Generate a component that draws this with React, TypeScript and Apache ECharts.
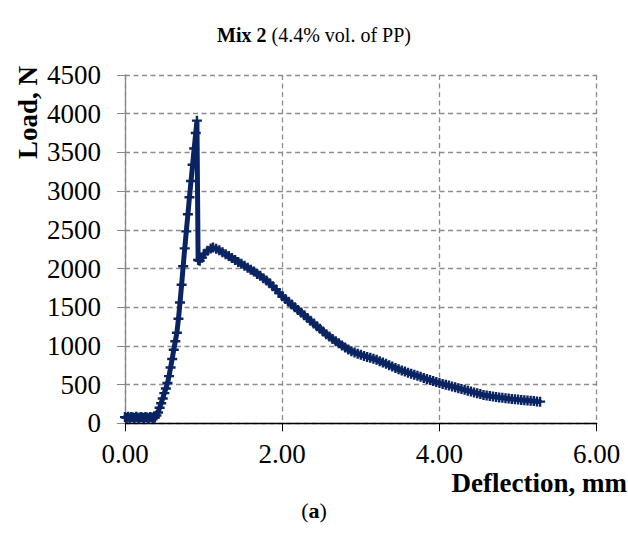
import React, { useEffect, useRef } from "react";
import * as echarts from "echarts";

// Deflection (mm) and Load (N)
const deflection = [
  0.0, 0.02, 0.04, 0.06, 0.08, 0.1, 0.12, 0.14, 0.16, 0.18, 0.2, 0.22, 0.24, 0.26, 0.28, 0.3, 0.32, 0.34, 0.36,
  0.38, 0.4, 0.42, 0.44, 0.46, 0.48, 0.5, 0.52, 0.54, 0.56, 0.58, 0.6, 0.62, 0.64, 0.66, 0.68, 0.7, 0.72, 0.74,
  0.76, 0.78, 0.8, 0.82, 0.84, 0.86, 0.88, 0.9, 0.915,
  0.93, 0.95, 0.98, 1.01, 1.05, 1.09, 1.12, 1.16, 1.2, 1.24, 1.28, 1.32, 1.36, 1.4, 1.44, 1.48, 1.52, 1.56, 1.6,
  1.64, 1.68, 1.72, 1.76, 1.8, 1.84, 1.88, 1.92, 1.96, 2.0, 2.04, 2.08, 2.12, 2.16, 2.2, 2.24, 2.28, 2.32, 2.36,
  2.4, 2.44, 2.48, 2.52, 2.56, 2.6, 2.64, 2.68, 2.72, 2.76, 2.8, 2.84, 2.88, 2.92, 2.96, 3.0, 3.04, 3.08, 3.12,
  3.16, 3.2, 3.24, 3.28, 3.32, 3.36, 3.4, 3.44, 3.48, 3.52, 3.56, 3.6, 3.64, 3.68, 3.72, 3.76, 3.8, 3.84, 3.88,
  3.92, 3.96, 4.0, 4.04, 4.08, 4.12, 4.16, 4.2, 4.24, 4.28, 4.32, 4.36, 4.4, 4.44, 4.48, 4.52, 4.56, 4.6, 4.64,
  4.68, 4.72, 4.76, 4.8, 4.84, 4.88, 4.92, 4.96, 5.0, 5.04, 5.08, 5.12, 5.16, 5.2, 5.24, 5.28,
];
const load = [
  80, 70, 85, 65, 80, 75, 70, 85, 75, 65, 80, 75, 70, 80, 75, 65, 80, 75, 70,
  75, 100, 140, 200, 260, 320, 390, 450, 520, 610, 720, 830, 950, 1060, 1170, 1350, 1560, 1790, 2030,
  2260, 2480, 2700, 2920, 3130, 3340, 3550, 3750, 3910,
  2110, 2100, 2140, 2190, 2230, 2260, 2270, 2255, 2235, 2210, 2185, 2160, 2135, 2110, 2085, 2060, 2035, 2010, 1985,
  1960, 1930, 1905, 1875, 1845, 1810, 1770, 1730, 1685, 1640, 1605, 1570, 1535, 1500, 1465, 1430, 1395, 1360, 1325,
  1290, 1255, 1220, 1185, 1150, 1120, 1090, 1060, 1035, 1005, 980, 955, 930, 915, 900, 885, 870, 858, 846,
  834, 822, 803, 785, 768, 750, 733, 715, 698, 682, 668, 654, 640, 627, 614, 601, 585, 572, 559,
  546, 533, 520, 509, 498, 487, 476, 465, 454, 443, 432, 421, 410, 399, 388, 377, 366, 359, 352,
  346, 340, 334, 329, 324, 319, 314, 310, 306, 302, 298, 294, 290, 287, 283, 280,
];

const xTicks = [0, 2, 4, 6];
const yTicks = [0, 500, 1000, 1500, 2000, 2500, 3000, 3500, 4000, 4500];

const FONT = "'Liberation Serif', 'Times New Roman', serif";
const LINE = "#0a2462";
const GRID = "#8c8c8c";

export default function App() {
  const ref = useRef<HTMLDivElement>(null);
  useEffect(() => {
    if (!ref.current) return;
    const chart = echarts.init(ref.current, null, { renderer: "svg" });
    const data = deflection.map((d, i) => [d, load[i]]);
    chart.setOption({
      animation: false,
      backgroundColor: "#fff",
      title: [
        {
          text: "{b|Mix 2} (4.4% vol. of PP)",
          left: "center",
          top: 20,
          textStyle: {
            fontFamily: FONT,
            fontSize: 20,
            fontWeight: "normal",
            color: "#000",
            rich: { b: { fontFamily: FONT, fontSize: 20, fontWeight: "bold", color: "#000" } },
          },
        },
        {
          text: "({b|a})",
          left: "center",
          top: 494,
          textStyle: {
            fontFamily: FONT,
            fontSize: 22,
            fontWeight: "normal",
            color: "#000",
            rich: { b: { fontFamily: FONT, fontSize: 22, fontWeight: "bold", color: "#000" } },
          },
        },
      ],
      grid: { left: 125, top: 75, right: 31.3, bottom: 110.7, containLabel: false },
      xAxis: {
        type: "value",
        min: xTicks[0],
        max: xTicks[xTicks.length - 1],
        interval: 2,
        axisLine: { show: true, lineStyle: { color: "#000", width: 1.3 } },
        axisTick: { show: true, length: 8, lineStyle: { color: "#000", width: 1 } },
        axisLabel: {
          margin: 17,
          fontFamily: FONT,
          fontSize: 27,
          color: "#000",
          formatter: (v: number) => v.toFixed(2),
        },
        splitLine: { show: true, lineStyle: { color: GRID, type: [5, 3.5], width: 1.3 } },
      },
      yAxis: {
        type: "value",
        min: yTicks[0],
        max: yTicks[yTicks.length - 1],
        interval: 500,
        axisLine: { show: true, lineStyle: { color: "#888", width: 1.3 } },
        axisTick: { show: true, length: 8, lineStyle: { color: "#888", width: 1 } },
        axisLabel: {
          margin: 24,
          fontFamily: FONT,
          fontSize: 27,
          color: "#000",
          formatter: (v: number) => String(v),
        },
        splitLine: { show: true, lineStyle: { color: GRID, type: [5, 3.5], width: 1.3 } },
      },
      graphic: [
        {
          type: "text",
          x: 28,
          y: 66,
          rotation: Math.PI / 2,
          style: {
            text: "Load, N",
            fontFamily: FONT,
            fontSize: 27,
            fontWeight: "bold",
            fill: "#000",
            textAlign: "right",
            textVerticalAlign: "middle",
          },
        },
        {
          type: "text",
          x: 627,
          y: 483,
          style: {
            text: "Deflection, mm",
            fontFamily: FONT,
            fontSize: 27,
            fontWeight: "bold",
            fill: "#000",
            textAlign: "right",
            textVerticalAlign: "middle",
          },
        },
      ],
      series: [
        {
          type: "line",
          data,
          clip: false,
          lineStyle: { color: LINE, width: 5 },
          itemStyle: { color: LINE },
          symbol: "path://M0,3.8H10V6.2H0Z M3.8,0H6.2V10H3.8Z",
          symbolSize: 10,
          showAllSymbol: true,
        },
      ],
    });
    return () => chart.dispose();
  }, []);
  return (
    <div
      ref={ref}
      style={{ position: "fixed", left: 0, top: 0, width: 628, height: 534, background: "#fff" }}
    />
  );
}
